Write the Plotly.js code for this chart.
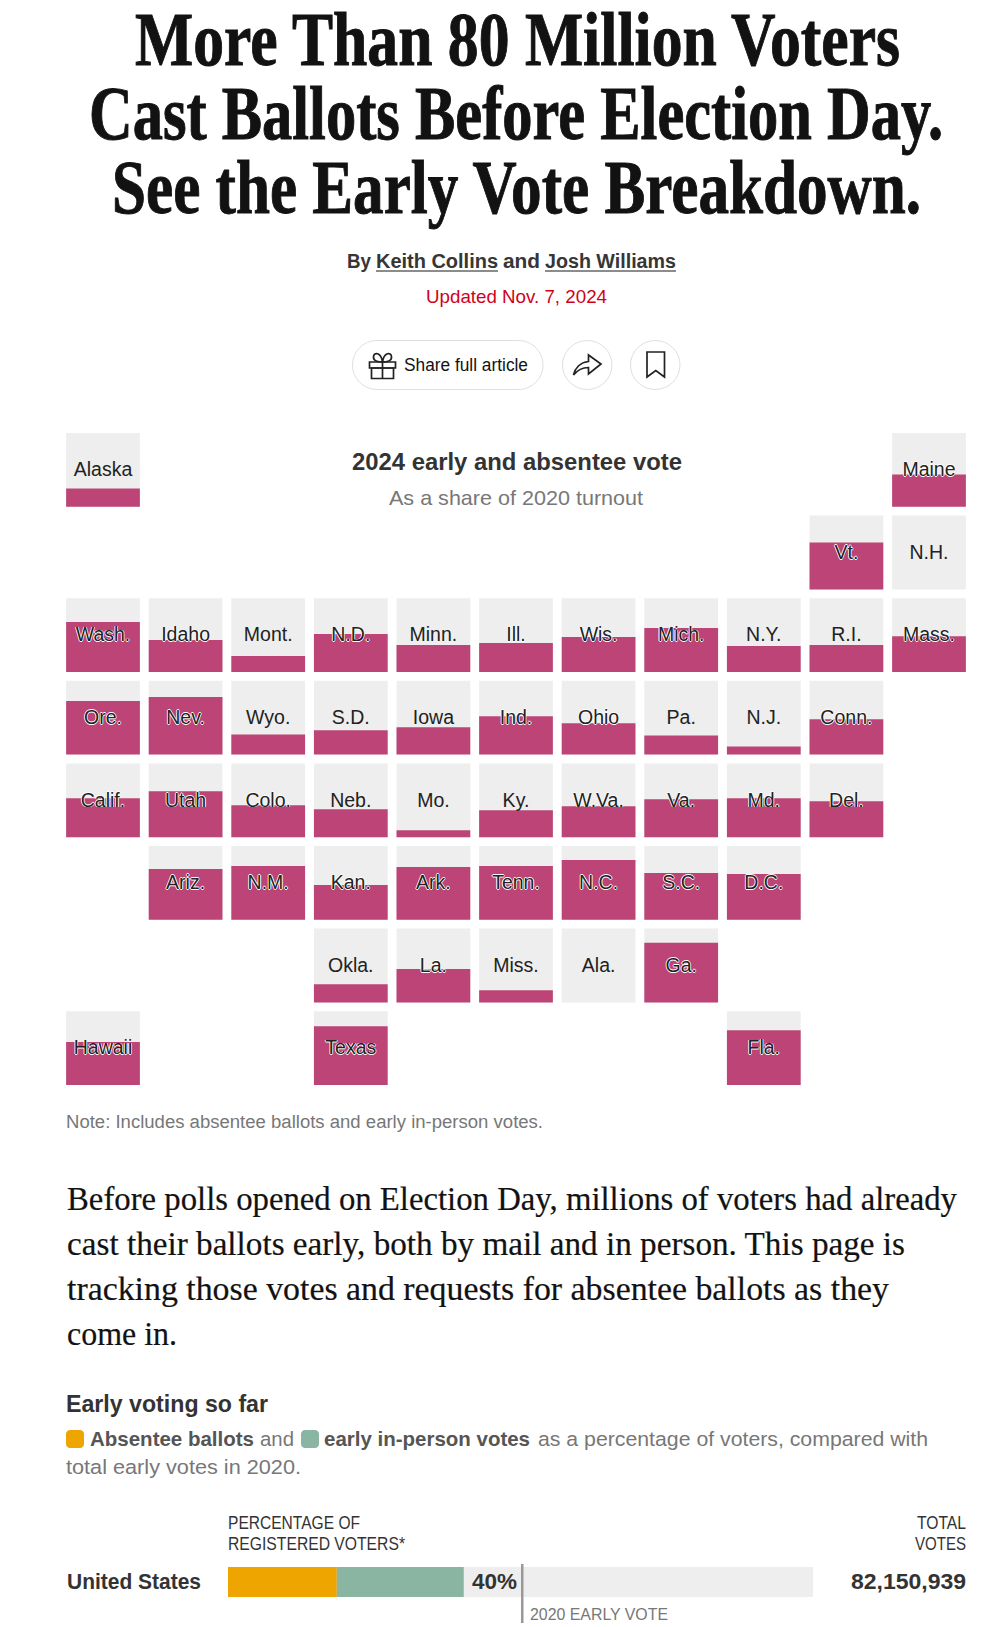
<!DOCTYPE html>
<html>
<head>
<meta charset="utf-8">
<title>Early vote breakdown</title>
<script src="https://cdn.plot.ly/plotly-3.0.1.min.js"></script>
<style>html,body{margin:0;padding:0;background:#fff;overflow:hidden}#chart{width:994px;height:1627px}</style>
</head>
<body>
<div id="chart"></div>
<script>
// ---- Tile map data: state label, grid column, grid row, 2024 early vote as % of 2020 turnout
var states = ["Alaska","Maine","Vt.","N.H.",
  "Wash.","Idaho","Mont.","N.D.","Minn.","Ill.","Wis.","Mich.","N.Y.","R.I.","Mass.",
  "Ore.","Nev.","Wyo.","S.D.","Iowa","Ind.","Ohio","Pa.","N.J.","Conn.",
  "Calif.","Utah","Colo.","Neb.","Mo.","Ky.","W.Va.","Va.","Md.","Del.",
  "Ariz.","N.M.","Kan.","Ark.","Tenn.","N.C.","S.C.","D.C.",
  "Okla.","La.","Miss.","Ala.","Ga.",
  "Hawaii","Texas","Fla."];
var cols = [0,10,9,10,
  0,1,2,3,4,5,6,7,8,9,10,
  0,1,2,3,4,5,6,7,8,9,
  0,1,2,3,4,5,6,7,8,9,
  1,2,3,4,5,6,7,8,
  3,4,5,6,7,
  0,3,8];
var rows = [0,0,1,1,
  2,2,2,2,2,2,2,2,2,2,2,
  3,3,3,3,3,3,3,3,3,3,
  4,4,4,4,4,4,4,4,4,4,
  5,5,5,5,5,5,5,5,
  6,6,6,6,6,
  7,7,7];
var shares = [24.7,43.8,63.5,0,
  67.6,43.2,21.6,51.4,36.5,39.2,47.3,59.5,35.1,36.5,48.6,
  72.6,78.1,27.4,32.9,37,52,42.5,26,11,47.9,
  52.7,62.2,43.2,37.8,9.5,36.5,41.9,51.4,52.7,48.6,
  68.9,73,47.3,71.6,73,81.1,63.5,62.2,
  24.7,45.2,16.4,0,80.8,
  58.1,79.7,74.3];
// ---- National bar data
var usLabel = ["United States"];
var usAbsentee = [18.6];
var usInPerson = [21.7];
var usFull = [100];
var us2020 = 50.3;

// ---- Page geometry helpers
var W = 994, H = 1627;
function px(x){return x/W;}
function py(y){return 1-y/H;}
var rowPitch = 111.9;   // one tile = 100 units on the y axis
var nRows = 8;
var rowBase = rows.map(function(r){return (nRows-1-r)*rowPitch;});
var haloAt = 39;
var HALO = "-0.8px 0 0 #fff,0.8px 0 0 #fff,0 -0.8px 0 #fff,0 0.8px 0 #fff";
var SANS = "Liberation Sans, Arial, sans-serif", SERIF = "Liberation Serif, Georgia, serif";
var ASC = {sans:0.905, serif:0.891};

// ---- Text lines: text, left px, right px, baseline px, size, colour, bold, family key, vertical stretch, stroke
var textLines = [
 ["More Than 80 Million Voters",135,900,65,62,"#121212",1,"serif",1.226,0.8],
 ["Cast Ballots Before Election Day.",89,943,139,62,"#121212",1,"serif",1.226,0.8],
 ["See the Early Vote Breakdown.",112,921,213,62,"#121212",1,"serif",1.226,0.8],
 ["By",347,371,268,20,"#363636",1,"sans"],
 ["Keith Collins",376,498,268,20,"#363636",1,"sans"],
 ["and",503,540,268,20,"#363636",1,"sans"],
 ["Josh Williams",545,676,268,20,"#363636",1,"sans"],
 ["Updated Nov. 7, 2024",426,607,303,19,"#d0021b",0,"sans"],
 ["Share full article",404,528,371,17.5,"#121212",0,"sans"],
 ["2024 early and absentee vote",352,682,470,24,"#333333",1,"sans"],
 ["As a share of 2020 turnout",389,643,505,21,"#777777",0,"sans"],
 ["Note: Includes absentee ballots and early in-person votes.",66,543,1128,18,"#777777",0,"sans"],
 ["Before polls opened on Election Day, millions of voters had already",67,957,1210,33,"#121212",0,"serif",1,0.2],
 ["cast their ballots early, both by mail and in person. This page is",67,905,1255,33,"#121212",0,"serif",1,0.2],
 ["tracking those votes and requests for absentee ballots as they",67,889,1300,33,"#121212",0,"serif",1,0.2],
 ["come in.",67,177,1345,33,"#121212",0,"serif",1,0.2],
 ["Early voting so far",66,268,1412,24,"#333333",1,"sans"],
 ["Absentee ballots",90,254,1446,20.5,"#555555",1,"sans"],
 ["and",260,294,1446,20.5,"#777777",0,"sans"],
 ["early in-person votes",324,530,1446,20.5,"#555555",1,"sans"],
 ["as a percentage of voters, compared with",538,928,1446,20.5,"#777777",0,"sans"],
 ["total early votes in 2020.",66,301,1474,20.5,"#777777",0,"sans"],
 ["PERCENTAGE OF",228,360,1529,18,"#333333",0,"sans"],
 ["REGISTERED VOTERS*",228,405,1550,18,"#333333",0,"sans"],
 ["TOTAL",917,966,1529,18,"#333333",0,"sans"],
 ["VOTES",915,966,1550,18,"#333333",0,"sans"],
 ["United States",67,201,1589,22,"#333333",1,"sans"],
 ["40%",472,517,1589,22.5,"#333333",1,"sans"],
 ["82,150,939",851,966,1589,22.5,"#333333",1,"sans"],
 ["2020 EARLY VOTE",530,668,1620,16.5,"#777777",0,"sans"]
];

var annotations = textLines.map(function(l){
  return {
    text:l[0], showarrow:false, xref:"paper", yref:"paper",
    x:px(l[1]), y:py(l[3]-ASC[l[7]]*l[4]),
    xanchor:"left", yanchor:"top", align:"left", borderpad:0, borderwidth:0,
    font:{family:l[7]==="serif"?SERIF:SANS, size:l[4], color:l[5], weight:l[6]?700:400}
  };
});

// ---- Page furniture
function rounded(x0,y0,x1,y1,r){
  var k=r*0.45;
  var p=[["M",x0+r,y0],["L",x1-r,y0],["C",x1-k,y0,x1,y0+k,x1,y0+r],["L",x1,y1-r],["C",x1,y1-k,x1-k,y1,x1-r,y1],
         ["L",x0+r,y1],["C",x0+k,y1,x0,y1-k,x0,y1-r],["L",x0,y0+r],["C",x0,y0+k,x0+k,y0,x0+r,y0]];
  return p.map(function(s){
    var out=s[0];
    for(var i=1;i<s.length;i+=2){out+=" "+px(s[i])+","+py(s[i+1]);}
    return out;
  }).join(" ")+" Z";
}
function paperPath(str){ // pixel path -> paper path
  return str.replace(/(-?[\d.]+),(-?[\d.]+)/g,function(m,a,b){return px(+a)+","+py(+b);});
}
function paperShape(o){o.xref="paper";o.yref="paper";return o;}
var INK = {color:"#222222",width:1.7};
var shapes = [
  paperShape({type:"path",path:rounded(352.5,340.5,543,389.5,24.5),line:{color:"#dfdfdf",width:1},fillcolor:"#ffffff"}),
  paperShape({type:"circle",x0:px(562.5),x1:px(612),y0:py(340.5),y1:py(389.5),line:{color:"#dfdfdf",width:1},fillcolor:"#ffffff"}),
  paperShape({type:"circle",x0:px(630.5),x1:px(680),y0:py(340.5),y1:py(389.5),line:{color:"#dfdfdf",width:1},fillcolor:"#ffffff"}),
  // gift
  paperShape({type:"path",path:paperPath("M369.5,362 L395.5,362 L395.5,368 L369.5,368 Z"),line:INK}),
  paperShape({type:"path",path:paperPath("M371.5,368 L393.5,368 L393.5,378.5 L371.5,378.5 Z"),line:INK}),
  paperShape({type:"path",path:paperPath("M382.5,362 L382.5,378.5"),line:INK}),
  paperShape({type:"path",path:paperPath("M382.5,362 C378,362 373,361 373.5,356.5 C374,352 381,352 382.5,362 C384,352 391,352 391.5,356.5 C392,361 387,362 382.5,362"),line:INK}),
  // share arrow
  paperShape({type:"path",path:paperPath("M573.5,375 C575,368.5 580,362.5 588.5,361.5 L588.5,355 L601,364 L588.5,374 L588.5,367.5 C581.5,367.5 577.5,370 573.5,375 Z"),line:INK}),
  // bookmark
  paperShape({type:"path",path:paperPath("M647,352 L664.5,352 L664.5,377 L655.8,370.5 L647,377 Z"),line:INK}),
  // byline underlines
  paperShape({type:"line",x0:px(376),x1:px(498),y0:py(271),y1:py(271),line:{color:"#666666",width:1.5}}),
  paperShape({type:"line",x0:px(545),x1:px(676),y0:py(271),y1:py(271),line:{color:"#666666",width:1.5}}),
  // legend keys
  paperShape({type:"path",path:rounded(66,1430,84,1448,4),line:{width:0},fillcolor:"#eea500"}),
  paperShape({type:"path",path:rounded(301,1430,319,1448,4),line:{width:0},fillcolor:"#8ab5a3"}),
  // 2020 marker
  {type:"line",xref:"x2",yref:"paper",x0:us2020,x1:us2020,y0:py(1564),y1:py(1623),line:{color:"#999999",width:2.5}}
];

// ---- Traces
var tileWidth = 0.893;
var tilesBg = {type:"bar",x:cols,y:states.map(function(){return 100;}),base:rowBase,width:tileWidth,
  marker:{color:"#eeeeee",line:{width:0}},hoverinfo:"skip",showlegend:false};
var tilesFill = {type:"bar",x:cols,y:shares,base:rowBase,width:tileWidth,
  marker:{color:"#bc4476",line:{width:0}},customdata:states,showlegend:false};
function labelTrace(keep,halo){
  var idx=states.map(function(_,i){return i;}).filter(keep);
  return {type:"scatter",mode:"text",cliponaxis:false,showlegend:false,hoverinfo:"skip",
    x:idx.map(function(i){return cols[i];}),
    y:idx.map(function(i){return rowBase[i]+48;}),
    text:idx.map(function(i){return states[i];}),
    textposition:"middle center",
    textfont:{family:SANS,size:19.5,color:"#222222",shadow:halo?HALO:"none"}};
}
var labelsPlain = labelTrace(function(i){return shares[i]<haloAt;},false);
var labelsHalo = labelTrace(function(i){return shares[i]>=haloAt;},true);

var usBg = {type:"bar",orientation:"h",xaxis:"x2",yaxis:"y2",y:usLabel,x:usFull,width:1,
  marker:{color:"#eeeeee",line:{width:0}},showlegend:false};
var usA = {type:"bar",orientation:"h",xaxis:"x2",yaxis:"y2",y:usLabel,x:usAbsentee,width:1,
  marker:{color:"#eea500",line:{width:0}},name:"Absentee ballots",showlegend:false};
var usB = {type:"bar",orientation:"h",xaxis:"x2",yaxis:"y2",y:usLabel,x:usInPerson,base:usAbsentee,width:1,
  marker:{color:"#8ab5a3",line:{width:0}},name:"Early in-person votes",showlegend:false};

var hidden = {visible:false,fixedrange:true,showgrid:false,zeroline:false};
var layout = {
  width:W,height:H,margin:{l:0,r:0,t:0,b:0},paper_bgcolor:"#ffffff",plot_bgcolor:"rgba(0,0,0,0)",
  barmode:"overlay",showlegend:false,
  xaxis:Object.assign({domain:[px(61.7),px(970.3)],range:[-0.5,10.5]},hidden),
  yaxis:Object.assign({domain:[py(1085),py(433)],range:[0,(nRows-1)*rowPitch+100]},hidden),
  xaxis2:Object.assign({domain:[px(228),px(813)],range:[0,100],anchor:"y2"},hidden),
  yaxis2:Object.assign({domain:[py(1597),py(1567)],range:[-0.5,0.5],type:"category",anchor:"x2"},hidden),
  annotations:annotations,shapes:shapes
};

var gd = document.getElementById("chart");
Plotly.newPlot(gd,[tilesBg,tilesFill,labelsPlain,labelsHalo,usBg,usA,usB],layout,{staticPlot:true,displayModeBar:false})
.then(function(){
  // fit each text line to its measured run width; stretch and thicken the display lines
  gd.querySelectorAll(".annotation").forEach(function(node){
    var i=+node.getAttribute("data-index");
    var t=node.querySelector(".annotation-text");
    var l=textLines[i];
    if(!t||!l){return;}
    t.setAttribute("textLength",l[2]-l[1]);
    t.setAttribute("lengthAdjust","spacingAndGlyphs");
    if(l[8]&&l[8]!==1){
      var by=parseFloat(t.getAttribute("y"))||0;
      t.setAttribute("transform","translate(0,"+by+") scale(1,"+l[8]+") translate(0,"+(-by)+")");
    }
    if(l[9]){
      t.style.stroke=l[5];
      t.style.strokeWidth=l[9]+"px";
    }
  });
});
</script>
</body>
</html>
